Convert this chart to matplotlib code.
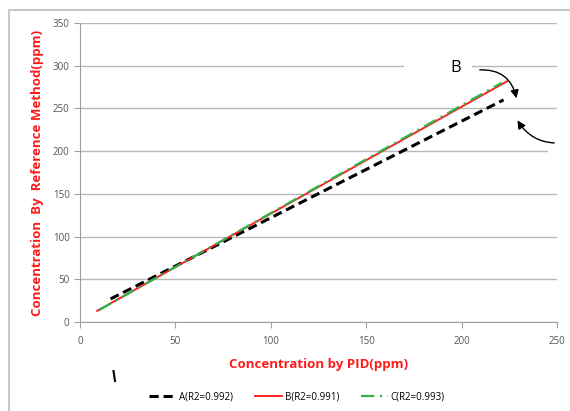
import matplotlib.pyplot as plt
from matplotlib.patches import Rectangle
from matplotlib.lines import Line2D

# concentration by PID (x) vs reference method (y)
pid_a = [16, 222]
ref_a = [27, 260]
pid_b = [9, 224]
ref_b = [13, 282]
pid_c = [10, 221]
ref_c = [14, 280]

labels = ["A(R2=0.992)", "B(R2=0.991)", "C(R2=0.993)"]
xticks = [0, 50, 100, 150, 200, 250]
yticks = [0, 50, 100, 150, 200, 250, 300, 350]

plt.rcParams['font.family'] = ['Open Sans', 'DejaVu Sans']

fig = plt.figure(figsize=(5.7, 4.11), dpi=100)
W, H = 570, 411
ax = fig.add_axes([80 / W, 1 - 322 / H, (557 - 80) / W, (322 - 23) / H])

# outer chart border (left and top visible)
fig.add_artist(Line2D([9 / W, 9 / W], [0, 1 - 10 / H], color='#c8c8c8', lw=1.5))
fig.add_artist(Line2D([9 / W, 1], [1 - 10 / H, 1 - 10 / H], color='#c8c8c8', lw=1.5))

ax.plot(pid_a, ref_a, color='black', lw=2.2, linestyle=(0, (3, 1.6)), label=labels[0], zorder=3)
ax.plot(pid_b, ref_b, color='#ff2020', lw=1.4, label=labels[1], zorder=3)
ax.plot(pid_c, ref_c, color='#2eb24a', lw=1.6, linestyle=(0, (6, 2.5, 1, 2.5)), label=labels[2], zorder=4)

ax.set_xlim(0, 250)
ax.set_ylim(0, 350)
ax.set_xticks(xticks)
ax.set_yticks(yticks)
ax.yaxis.grid(True, color='#b8b8b8', lw=1)
ax.set_axisbelow(True)

# white patches that cut the gridlines near the annotation
ax.add_patch(Rectangle((169.8, 294), 35.7, 12, facecolor='white', edgecolor='none', zorder=1))
ax.add_patch(Rectangle((245.3, 195), 6, 10, facecolor='white', edgecolor='none', zorder=1, clip_on=False))

for s in ['top', 'right']:
    ax.spines[s].set_visible(False)
ax.spines['left'].set_color('#a0a0a0')
ax.spines['bottom'].set_color('#a0a0a0')
ax.tick_params(colors='#a0a0a0', labelcolor='#555555', labelsize=7, length=4)
ax.tick_params(axis='x', pad=6)

ax.set_xlabel("Concentration by PID(ppm)", color='#ff1a1a', fontweight='bold', fontsize=9.5, labelpad=8)
ax.set_ylabel("Concentration  By  Reference Method(ppm)", color='#ff1a1a', fontweight='bold',
              fontsize=9.5, labelpad=6)

# annotation
fig.text(456 / W, 1 - 68 / H, "B", fontsize=12, ha='center', va='center')
ax.annotate("", xy=(517 / W, 1 - 101 / H), xytext=(477 / W, 1 - 70 / H),
            xycoords='figure fraction', textcoords='figure fraction',
            arrowprops=dict(arrowstyle='-|>', color='black', lw=1,
                            connectionstyle='arc3,rad=-0.45', mutation_scale=12))
ax.annotate("", xy=(516 / W, 1 - 118 / H), xytext=(557 / W, 1 - 143 / H),
            xycoords='figure fraction', textcoords='figure fraction',
            arrowprops=dict(arrowstyle='-|>', color='black', lw=1,
                            connectionstyle='angle3,angleA=180,angleB=-60', mutation_scale=12))

# stray mark
fig.add_artist(Line2D([113.5 / W, 115 / W], [1 - 371 / H, 1 - 381 / H], color='black', lw=1.5))

fig.legend(loc='center', bbox_to_anchor=(297 / W, 1 - 397 / H), ncol=3, frameon=False,
           fontsize=7, handlelength=2.8, columnspacing=2.2, handletextpad=0.3)

fig.savefig("out.png", dpi=100)
